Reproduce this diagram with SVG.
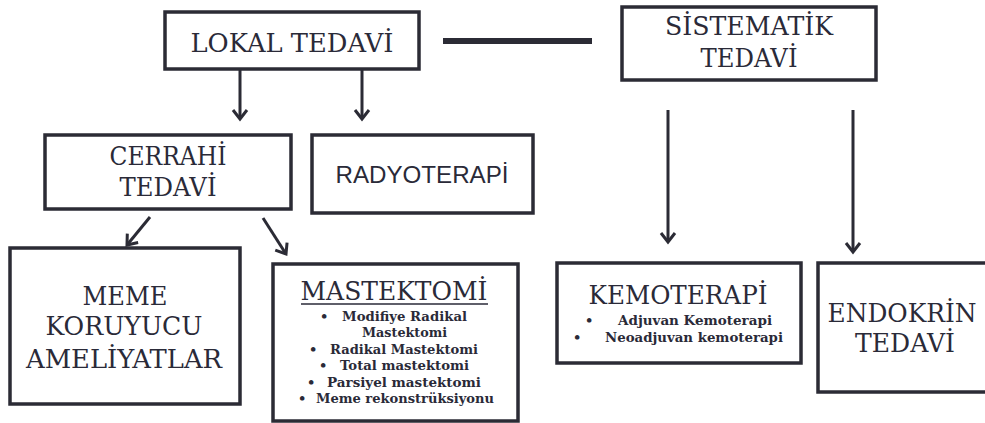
<svg xmlns="http://www.w3.org/2000/svg" width="985" height="423" viewBox="0 0 985 423">
<style>
.box{fill:#fff;stroke:#2b2b35;stroke-width:3.5}
.t{font-size:26px;fill:#2a2a38;text-anchor:middle}
.s{font-size:24px;fill:#2a2a38;text-anchor:middle}
.b{font-size:13px;font-weight:bold;fill:#2a2a38}
.c{stroke:#2b2b35;stroke-width:3;fill:none}
</style>
<defs>
<marker id="ah" markerUnits="userSpaceOnUse" markerWidth="20" markerHeight="20" viewBox="-12 -10 14 20" refX="0" refY="0" orient="auto">
<path d="M-9,-7 L0,0 L-9,7" fill="none" stroke="#2b2b35" stroke-width="3"/>
</marker>
</defs>
<rect width="985" height="423" fill="#fff"/>
<g id="connectors">
<line x1="443" y1="41" x2="592" y2="41" stroke="#2b2b35" stroke-width="6"/>
<line class="c" x1="240" y1="70" x2="240" y2="119" marker-end="url(#ah)"/>
<line class="c" x1="362" y1="70" x2="362" y2="119" marker-end="url(#ah)"/>
<line class="c" x1="150" y1="217" x2="127" y2="245" marker-end="url(#ah)"/>
<line class="c" x1="263" y1="218" x2="286" y2="254" marker-end="url(#ah)"/>
<line class="c" x1="668" y1="110" x2="668" y2="242" marker-end="url(#ah)"/>
<line class="c" x1="853" y1="110" x2="853" y2="252" marker-end="url(#ah)"/>
</g>
<g font-family="DejaVu Serif, Liberation Serif, serif">
<g id="lokal">
<rect class="box" x="165" y="12" width="254" height="57"/>
<text class="t" x="292" y="52" textLength="203" lengthAdjust="spacingAndGlyphs">LOKAL TEDAVİ</text>
</g>
<g id="sistematik">
<rect class="box" x="622" y="7" width="254" height="73"/>
<text class="t" x="749" y="35" textLength="168" lengthAdjust="spacingAndGlyphs">SİSTEMATİK</text>
<text class="t" x="749" y="67" textLength="97" lengthAdjust="spacingAndGlyphs">TEDAVİ</text>
</g>
<g id="cerrahi">
<rect class="box" x="45" y="135" width="246" height="74"/>
<text class="t" x="168" y="165" textLength="117" lengthAdjust="spacingAndGlyphs">CERRAHİ</text>
<text class="t" x="168" y="196" textLength="97" lengthAdjust="spacingAndGlyphs">TEDAVİ</text>
</g>
<g id="radyoterapi">
<rect class="box" x="312" y="135" width="221" height="78"/>
<text class="s" font-family="Liberation Sans, Arial, sans-serif" x="422" y="183" textLength="173" lengthAdjust="spacingAndGlyphs">RADYOTERAPİ</text>
</g>
<g id="meme">
<rect class="box" x="10" y="248" width="230" height="156"/>
<text class="t" x="125" y="305" textLength="85" lengthAdjust="spacingAndGlyphs">MEME</text>
<text class="t" x="124" y="335" textLength="157" lengthAdjust="spacingAndGlyphs">KORUYUCU</text>
<text class="t" x="124" y="368" textLength="196" lengthAdjust="spacingAndGlyphs">AMELİYATLAR</text>
</g>
<g id="mastektomi">
<rect class="box" x="273" y="264" width="245" height="157"/>
<text class="t" x="394" y="300" textLength="187" lengthAdjust="spacingAndGlyphs">MASTEKTOMİ</text>
<line x1="301" y1="304" x2="488" y2="304" stroke="#2a2a38" stroke-width="1.5"/>
<text class="b" x="320" y="321">•</text>
<text class="b" x="342" y="321" textLength="125" lengthAdjust="spacingAndGlyphs">Modifiye Radikal</text>
<text class="b" x="362" y="337" textLength="85" lengthAdjust="spacingAndGlyphs">Mastektomi</text>
<text class="b" x="309" y="354">•</text>
<text class="b" x="330" y="354" textLength="148" lengthAdjust="spacingAndGlyphs">Radikal Mastektomi</text>
<text class="b" x="319" y="370">•</text>
<text class="b" x="340" y="370" textLength="129" lengthAdjust="spacingAndGlyphs">Total mastektomi</text>
<text class="b" x="307" y="387">•</text>
<text class="b" x="327" y="387" textLength="154" lengthAdjust="spacingAndGlyphs">Parsiyel mastektomi</text>
<text class="b" x="298" y="403">•</text>
<text class="b" x="316" y="403" textLength="178" lengthAdjust="spacingAndGlyphs">Meme rekonstrüksiyonu</text>
</g>
<g id="kemoterapi">
<rect class="box" x="557" y="263" width="244" height="100"/>
<text class="t" x="678" y="304" textLength="179" lengthAdjust="spacingAndGlyphs">KEMOTERAPİ</text>
<text class="b" x="585" y="325">•</text>
<text class="b" x="618" y="325" textLength="154" lengthAdjust="spacingAndGlyphs">Adjuvan Kemoterapi</text>
<text class="b" x="573" y="342">•</text>
<text class="b" x="605" y="342" textLength="178" lengthAdjust="spacingAndGlyphs">Neoadjuvan kemoterapi</text>
</g>
<g id="endokrin">
<rect class="box" x="818" y="263" width="200" height="129"/>
<text class="t" x="902" y="322" textLength="149" lengthAdjust="spacingAndGlyphs">ENDOKRİN</text>
<text class="t" x="905" y="352" textLength="100" lengthAdjust="spacingAndGlyphs">TEDAVİ</text>
</g>
</g>
</svg>
